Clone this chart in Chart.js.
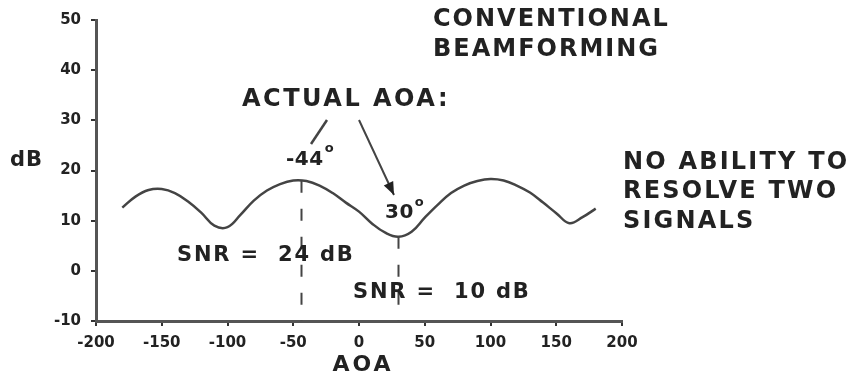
<!DOCTYPE html>
<html>
<head>
<meta charset="utf-8">
<script src="https://cdn.jsdelivr.net/npm/chart.js@4.4.1/dist/chart.umd.min.js"></script>
<style>
  html, body { margin: 0; padding: 0; background: #fff; }
  #wrap { position: relative; width: 852px; height: 379px; }
</style>
</head>
<body>
<div id="wrap"><canvas id="c"></canvas></div>
<script>
// Beam response of conventional beamforming versus angle of arrival
const aoa = [-180, -170, -160, -150, -140, -130, -120, -110, -100, -90,
             -80, -70, -60, -50, -40, -30, -20, -10, 0, 10,
             20, 30, 40, 50, 60, 70, 80, 90, 100, 110,
             120, 130, 140, 150, 160, 170, 180];
const powerDb = [12.6, 14.8, 16.1, 16.3, 15.5, 13.8, 11.6, 9.0, 8.7, 11.2,
                 14.0, 16.0, 17.3, 18.0, 17.9, 17.0, 15.5, 13.6, 11.8, 9.4,
                 7.6, 6.8, 7.8, 10.6, 13.2, 15.5, 17.0, 17.9, 18.3, 18.0,
                 17.0, 15.6, 13.6, 11.5, 9.5, 10.7, 12.4];
const xTicks = [-200, -150, -100, -50, 0, 50, 100, 150, 200];
const yTicks = [-10, 0, 10, 20, 30, 40, 50];
const actualAoa = [-44, 30];
const snrDb = [24, 10];

const FONT = '"DejaVu Sans", "Liberation Sans", sans-serif';
const INK = '#222';

function dbAt(a) {
  for (let i = 0; i < aoa.length - 1; i++) {
    if (a >= aoa[i] && a <= aoa[i + 1]) {
      const t = (a - aoa[i]) / (aoa[i + 1] - aoa[i]);
      return powerDb[i] + t * (powerDb[i + 1] - powerDb[i]);
    }
  }
  return powerDb[0];
}

function txt(ctx, s, x, y, size, spacing, align) {
  ctx.font = 'bold ' + size + 'px ' + FONT;
  ctx.letterSpacing = (spacing || 0) + 'px';
  ctx.textAlign = align || 'left';
  ctx.textBaseline = 'middle';
  ctx.fillText(s, x, y);
  return ctx.measureText(s).width;
}

function arrow(ctx, x1, y1, x2, y2, head) {
  ctx.beginPath(); ctx.moveTo(x1, y1); ctx.lineTo(x2, y2); ctx.stroke();
  if (!head) return;
  const ang = Math.atan2(y2 - y1, x2 - x1);
  ctx.beginPath();
  ctx.moveTo(x2, y2);
  ctx.lineTo(x2 - head * Math.cos(ang) + head * 0.4 * Math.sin(ang), y2 - head * Math.sin(ang) - head * 0.4 * Math.cos(ang));
  ctx.lineTo(x2 - head * Math.cos(ang) - head * 0.4 * Math.sin(ang), y2 - head * Math.sin(ang) + head * 0.4 * Math.cos(ang));
  ctx.closePath(); ctx.fill();
}

const notes = {
  id: 'notes',
  afterDraw(chart) {
    const { ctx, scales: { x, y } } = chart;
    ctx.save();
    ctx.fillStyle = INK;
    ctx.strokeStyle = '#444';

    // dashed drop lines at the true arrival angles
    ctx.lineWidth = 2;
    ctx.setLineDash([12, 16]);
    actualAoa.forEach(a => {
      const px = Math.round(x.getPixelForValue(a)) + 0.5;
      ctx.beginPath();
      ctx.moveTo(px, y.getPixelForValue(dbAt(a)));
      ctx.lineTo(px, y.bottom);
      ctx.stroke();
    });
    ctx.setLineDash([]);

    // axis names
    txt(ctx, 'dB', 10, 161, 21, 1);
    txt(ctx, 'AOA', (x.left + x.right) / 2 + 4, 365, 22, 3, 'center');

    // headings
    txt(ctx, 'CONVENTIONAL', 433, 20, 24, 2);
    txt(ctx, 'BEAMFORMING', 433, 50, 24, 2);
    txt(ctx, 'ACTUAL AOA:', 242, 100, 24, 2.5);
    txt(ctx, 'NO ABILITY TO', 623, 163, 24, 2.2);
    txt(ctx, 'RESOLVE TWO', 623, 192, 24, 2.2);
    txt(ctx, 'SIGNALS', 623, 222, 24, 2.2);

    // angle callouts
    const w1 = txt(ctx, String(actualAoa[0]), 286, 160, 20, 0.5);
    txt(ctx, 'o', 286 + w1 + 1, 149, 13, 0);
    const w2 = txt(ctx, String(actualAoa[1]), 385, 213, 20, 0.5);
    txt(ctx, 'o', 385 + w2 + 1, 203, 13, 0);

    // SNR notes
    txt(ctx, 'SNR =  ' + snrDb[0] + ' dB', 177, 256, 21, 1.8);
    txt(ctx, 'SNR =  ' + snrDb[1] + ' dB', 353, 293, 21, 1.8);

    // pointers from the heading to the angles
    ctx.lineWidth = 2.5;
    arrow(ctx, 327, 120, 311, 144, 0);
    ctx.lineWidth = 2;
    arrow(ctx, 359, 120, 394, 195, 13);

    ctx.restore();
  }
};

new Chart(document.getElementById('c'), {
  type: 'line',
  data: {
    datasets: [{
      data: aoa.map((a, i) => ({ x: a, y: powerDb[i] })),
      borderColor: '#444',
      borderWidth: 2.5,
      pointRadius: 0,
      tension: 0.4,
      fill: false
    }]
  },
  options: {
    responsive: true,
    maintainAspectRatio: false,
    animation: false,
    layout: { padding: { top: 20, right: 230, bottom: 0, left: 0 } },
    plugins: { legend: { display: false }, tooltip: { enabled: false } },
    scales: {
      x: {
        type: 'linear',
        min: -200, max: 200,
        afterBuildTicks: s => { s.ticks = xTicks.map(v => ({ value: v })); },
        afterFit: s => { s.height = 58; },
        grid: { drawOnChartArea: false, drawTicks: true, tickLength: 5, color: '#333', lineWidth: 2 },
        border: { display: true, color: '#555', width: 3 },
        ticks: { color: INK, padding: 8, maxRotation: 0, autoSkip: false,
                 font: { family: FONT, size: 15, weight: 'bold' } }
      },
      y: {
        type: 'linear',
        min: -10, max: 50,
        afterBuildTicks: s => { s.ticks = yTicks.map(v => ({ value: v })); },
        afterFit: s => { s.width = 96; },
        grid: { drawOnChartArea: false, drawTicks: true, tickLength: 5, color: '#333', lineWidth: 2 },
        border: { display: true, color: '#555', width: 3 },
        ticks: { color: INK, padding: 10, autoSkip: false,
                 font: { family: FONT, size: 15, weight: 'bold' } }
      }
    }
  },
  plugins: [notes]
});
</script>
</body>
</html>
